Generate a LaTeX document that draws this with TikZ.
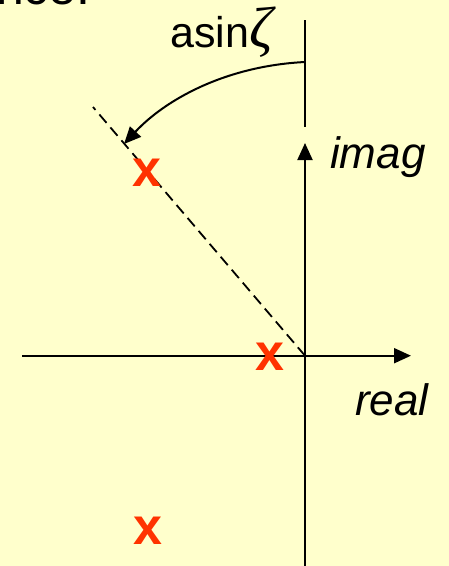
\documentclass[tikz,border=0pt]{standalone}
\usepackage{fontspec}
\setmainfont{Liberation Sans}
\newfontfamily\seriffont{Liberation Serif}
\usetikzlibrary{arrows.meta}
\definecolor{bgyellow}{RGB}{255,255,204}
\definecolor{markred}{RGB}{255,51,0}
\begin{document}
\begin{tikzpicture}[x=1pt,y=-1pt,
  axis/.style={line width=2pt},
  tip/.style={-{Triangle[length=17pt,width=15pt]}},
  lbl/.style={inner sep=0pt,anchor=base west,font=\fontsize{44}{50}\selectfont\itshape},
  pole/.style={inner sep=0pt,text=markred,font=\fontsize{52}{60}\selectfont\bfseries}]
\fill[bgyellow] (0,0) rectangle (449,566);
\useasboundingbox (0,0) rectangle (449,566);
\node[inner sep=0pt,anchor=base west,font=\fontsize{50}{60}\selectfont] (title) at (-4,4) {nce:};
\coordinate (o) at (305,355.7);
\coordinate (xl) at (22,355.7);
\coordinate (xr) at (411,355.7);
\coordinate (yb) at (305,570);
\coordinate (yt) at (305,143);
\coordinate (rt) at (305,20);
\coordinate (rb) at (305,127);
\coordinate (ra) at (305,62);
\coordinate (d) at (93,107);
\coordinate (atip) at (124,144);
\draw[axis,tip] (xl) -- (xr);
\draw[axis,tip] (yb) -- (yt);
\draw[axis] (rt) -- (rb);
\draw[line width=1.8pt,dash pattern=on 11pt off 6pt] (o) -- (d);
\draw[line width=2pt,tip] (ra) .. controls (225,66) and (165,100) .. (atip);
\node[inner sep=0pt,anchor=base west,font=\fontsize{43}{50}\selectfont] (asin) at (170,47) {asin{\seriffont\itshape\fontsize{58}{60}\selectfont ζ}};
\node[lbl] (imag) at (330,168) {imag};
\node[lbl] (real) at (355,415) {real};
\node[pole] (p1) at (147,173) {x};
\node[pole] (p2) at (270,357) {x};
\node[pole] (p3) at (147.5,531) {x};
\end{tikzpicture}
\end{document}
